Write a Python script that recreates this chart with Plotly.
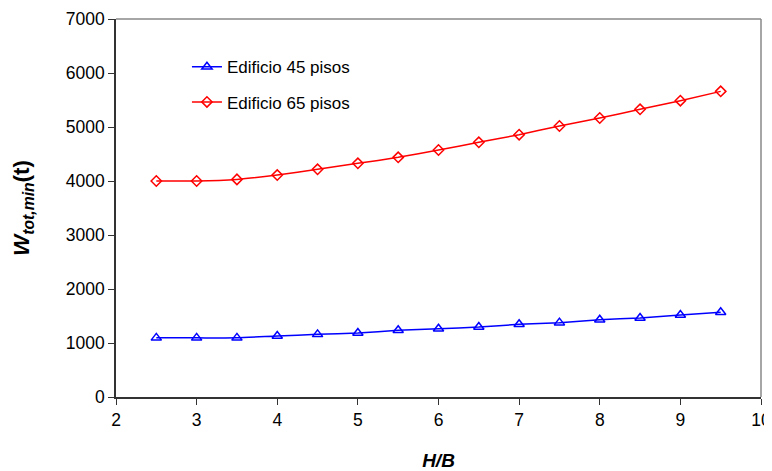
import plotly.graph_objects as go

hb = [2.5, 3, 3.5, 4, 4.5, 5, 5.5, 6, 6.5, 7, 7.5, 8, 8.5, 9, 9.5]
w45 = [1095, 1095, 1095, 1130, 1160, 1185, 1235, 1265, 1296, 1346, 1377, 1432, 1463, 1519, 1568]
w65 = [4000, 4000, 4030, 4110, 4216, 4327, 4438, 4574, 4716, 4858, 5019, 5167, 5327, 5488, 5660]
names = ["Edificio 45 pisos", "Edificio 65 pisos"]
xticks = [2, 3, 4, 5, 6, 7, 8, 9, 10]
yticks = [0, 1000, 2000, 3000, 4000, 5000, 6000, 7000]

fig = go.Figure()
fig.add_trace(go.Scatter(
    x=hb, y=w45, name=names[0], mode="lines+markers", legendgroup="a",
    line=dict(color="#0000FF", width=1.5, shape="spline", smoothing=0.5),
    marker=dict(symbol="triangle-up-open", size=9, color="#0000FF", line=dict(width=1.5)),
))
fig.add_trace(go.Scatter(
    x=hb, y=w65, name=names[1], mode="lines+markers", legendgroup="b",
    line=dict(color="#FF0000", width=1.5, shape="spline", smoothing=0.5),
    marker=dict(symbol="diamond-open", size=8, color="#FF0000", line=dict(width=1.5)),
))

axis_font = dict(family="Liberation Sans, Arial, sans-serif", size=17.5, color="black")
# page body has an 8px default margin, so the figure is sized to fit inside the window
fig.update_layout(
    width=764, height=463,
    margin=dict(l=108, r=11, t=11, b=74),
    paper_bgcolor="white", plot_bgcolor="white",
    font=axis_font,
    showlegend=True,
    legend=dict(x=0.11, y=0.92, xanchor="left", yanchor="top",
                bgcolor="rgba(0,0,0,0)", font=dict(size=17, color="black"),
                traceorder="grouped", tracegroupgap=10),
    xaxis=dict(range=[2, 10], tickvals=xticks, showgrid=False, zeroline=False,
               showline=True, linecolor="#333333", linewidth=1.5,
               ticks="outside", ticklen=6, tickcolor="#333333",
               tickfont=axis_font, automargin=False, ticklabeloverflow="allow",
               title=dict(text="<b><i>H/B</i></b>", font=dict(size=19), standoff=26)),
    yaxis=dict(range=[0, 7000], tickvals=yticks, showgrid=False, zeroline=False,
               showline=True, linecolor="#333333", linewidth=1.5,
               ticks="outside", ticklen=6, tickcolor="#333333",
               tickfont=axis_font, automargin=False,
               title=dict(text="<b><i>W<sub>tot,min</sub></i>(t)</b>", font=dict(size=22.5), standoff=30)),
)
fig.add_shape(type="line", xref="paper", yref="paper", x0=0, x1=1, y0=1, y1=1,
              line=dict(color="#888888", width=1.5))
fig.add_shape(type="line", xref="paper", yref="paper", x0=1, x1=1, y0=0, y1=1,
              line=dict(color="#888888", width=1.5))

fig.write_html("out.html")
